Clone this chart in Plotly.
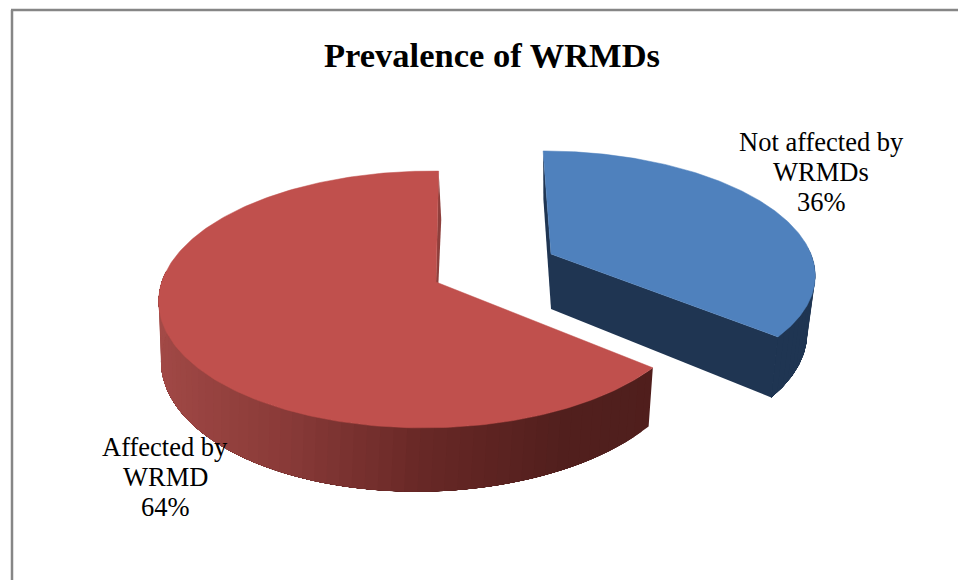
import numpy as np
import plotly.graph_objects as go

# Survey result
categories = ["Not affected by WRMDs", "Affected by WRMD"]
label_lines = [["Not affected by", "WRMDs", "36%"], ["Affected by", "WRMD", "64%"]]
values = [36, 64]
top_colors = ["#4f81bd", "#c0504d"]
title_text = "Prevalence of WRMDs"

# Projection of each exploded slice onto the page (pixel coordinates)
views = [
    dict(cx=551, cy=254, a=260, b=118, p=0.145, q=0.0, sk=-9, h=55, shrink=0.03, lean=0),
    dict(cx=436, cy=282, a=266, b=126, p=0.136, q=0.03, sk=3, h=55, shrink=0.01, lean=3),
]
label_pos = [(821, 142), (165, 447)]
LINE_STEP = 30
BLUE_WALL = "#1f3552"
RED_WALL_STOPS = [(-1.0, (163, 74, 71)), (-0.5, (139, 59, 57)), (0.0, (102, 39, 37)),
                  (0.45, (81, 31, 29)), (1.0, (79, 30, 28))]


def project(view, theta, depth=False):
    """Map a rim angle (radians, clockwise from the back) to page pixels."""
    return project_uv(view, np.sin(theta), np.cos(theta), depth)


def project_uv(view, u, v, depth=False):
    w = 1 + view["p"] * v + view["q"] * u
    x = view["cx"] + (view["a"] * u + view["sk"] * v) / w
    y = view["cy"] - view["b"] * v / w
    if depth:
        x = view["cx"] + (x - view["cx"]) * (1 - view["shrink"]) + view["lean"] * v / w
        y = y + view["h"] / w
    return x, y


def wall_color(index, u):
    if index == 0:
        return BLUE_WALL
    xs = [s[0] for s in RED_WALL_STOPS]
    rgb = [np.interp(u, xs, [s[1][i] for s in RED_WALL_STOPS]) for i in range(3)]
    return "rgb({:.0f},{:.0f},{:.0f})".format(*rgb)


def polygon(xs, ys, color, edge=0.0):
    return go.Scatter(x=list(xs), y=list(ys), mode="lines", fill="toself", fillcolor=color,
                      line=dict(color=color, width=edge), hoverinfo="skip", showlegend=False)


fig = go.Figure()
total = sum(values)
starts = np.cumsum([0] + values[:-1]) / total * 2 * np.pi
sweeps = np.array(values) / total * 2 * np.pi

for i, view in enumerate(views):
    t0, t1 = starts[i], starts[i] + sweeps[i]
    edges = np.linspace(t0, t1, int(np.degrees(sweeps[i]) / 2.5) + 1)
    step = edges[1] - edges[0]

    # outer wall, front part only: each strip runs to the end of the visible arc and
    # the next one paints over it, which leaves no seams between neighbouring strips
    front = edges[np.cos(edges) < 0.1]
    for a0 in front[:-1]:
        arc = np.linspace(a0, front[-1], 60)
        xt, yt = project(view, arc)
        xb, yb = project(view, arc[::-1], True)
        fig.add_trace(polygon(np.r_[xt, xb, xt[0]], np.r_[yt, yb, yt[0]],
                              wall_color(i, np.sin(a0 + step / 2))))

    # cut walls running from the rim to the slice centre
    cut_color = BLUE_WALL if i == 0 else "#8e3f3c"
    for a in (t0, t1):
        rx, ry = project(view, a)
        bx, by = project(view, a, True)
        ax_, ay_ = project_uv(view, 0.0, 0.0)
        dx, dy = project_uv(view, 0.0, 0.0, True)
        if i == 1 and a == t0:
            continue
        fig.add_trace(polygon([rx, ax_, dx, bx, rx], [ry, ay_, dy, by, ry], cut_color))

    # top face
    arc = np.linspace(t0, t1, 240)
    xa, ya = project(view, arc)
    ox, oy = project_uv(view, 0.0, 0.0)
    fig.add_trace(polygon(np.r_[ox, xa, ox], np.r_[oy, ya, oy], top_colors[i], 0.5))

annotations = [dict(text="<b>" + title_text + "</b>", x=492, y=55, xref="x", yref="y", showarrow=False,
                    font=dict(family="Liberation Serif", size=34.5, color="#000000"))]
for lines, (lx, ly) in zip(label_lines, label_pos):
    for k, line in enumerate(lines):
        annotations.append(dict(text=line, x=lx, y=ly + k * LINE_STEP, xref="x", yref="y",
                                showarrow=False, align="center",
                                font=dict(family="Liberation Serif", size=26.5, color="#000000")))

frame = "#868686"
shapes = [
    dict(type="line", x0=12, x1=12, y0=10, y1=580, xref="x", yref="y", line=dict(color=frame, width=2.5)),
    dict(type="line", x0=11, x1=958, y0=10, y1=10, xref="x", yref="y", line=dict(color=frame, width=2.5)),
]

fig.update_layout(
    width=958, height=580, autosize=False,
    margin=dict(l=0, r=0, t=0, b=0),
    paper_bgcolor="#ffffff", plot_bgcolor="#ffffff",
    xaxis=dict(range=[0, 958], visible=False, fixedrange=True),
    yaxis=dict(range=[580, 0], visible=False, fixedrange=True),
    annotations=annotations, shapes=shapes, showlegend=False,
)
fig.write_html("out.html", config=dict(displayModeBar=False))
